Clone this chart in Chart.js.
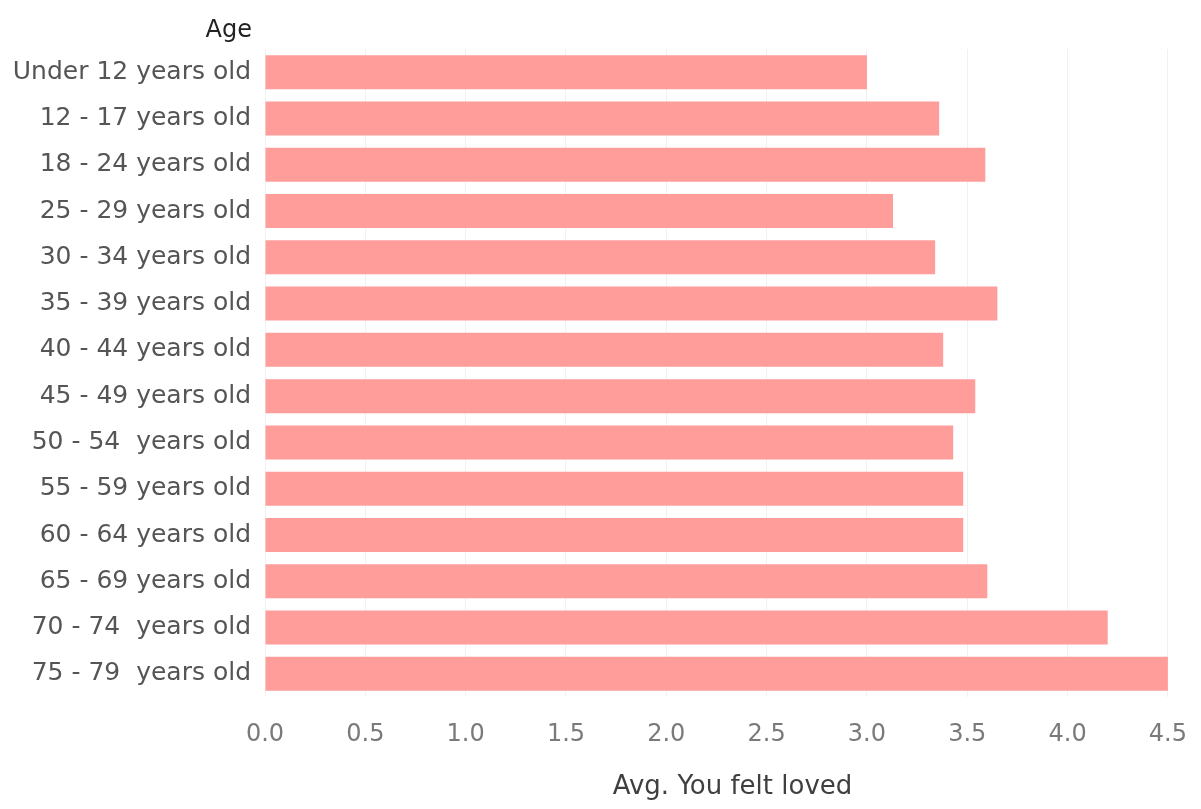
<!DOCTYPE html>
<html>
<head>
<meta charset="utf-8">
<script src="https://cdn.jsdelivr.net/npm/chart.js@4.4.1/dist/chart.umd.min.js"></script>
<style>
  html, body { margin: 0; padding: 0; background: #ffffff; }
  #wrap { position: relative; width: 1201px; height: 809px; }
</style>
</head>
<body>
<div id="wrap"><canvas id="chart" width="1201" height="809"></canvas></div>
<script>
// Age groups, top to bottom
const ageGroups = [
  'Under 12 years old',
  '12 - 17 years old',
  '18 - 24 years old',
  '25 - 29 years old',
  '30 - 34 years old',
  '35 - 39 years old',
  '40 - 44 years old',
  '45 - 49 years old',
  '50 - 54  years old',
  '55 - 59 years old',
  '60 - 64 years old',
  '65 - 69 years old',
  '70 - 74  years old',
  '75 - 79  years old'
];

// Average "You felt loved" score per age group
const avgFeltLoved = [3.00, 3.36, 3.59, 3.13, 3.34, 3.65, 3.38, 3.54, 3.43, 3.48, 3.48, 3.60, 4.20, 4.50];

// Value axis tick values
const xTicks = [0, 0.5, 1.0, 1.5, 2.0, 2.5, 3.0, 3.5, 4.0, 4.5];

const FONT = '"DejaVu Sans", Verdana, sans-serif';

// Draws the "Age" header above the row labels, right-aligned with them
const rowHeader = {
  id: 'rowHeader',
  afterDraw(chart) {
    const y = chart.scales.y;
    const ctx = chart.ctx;
    ctx.save();
    ctx.font = '24px ' + FONT;
    ctx.fillStyle = '#222222';
    ctx.textAlign = 'right';
    ctx.textBaseline = 'middle';
    ctx.fillText('Age', y.right - 13, chart.chartArea.top - 18);
    ctx.restore();
  }
};

new Chart(document.getElementById('chart'), {
  type: 'bar',
  data: {
    labels: ageGroups,
    datasets: [{
      data: avgFeltLoved,
      backgroundColor: '#ff9d9a',
      borderWidth: 0,
      barPercentage: 0.735,
      categoryPercentage: 1.0
    }]
  },
  options: {
    indexAxis: 'y',
    responsive: false,
    animation: false,
    layout: { padding: { top: 49, right: 1, left: 0, bottom: 0 } },
    plugins: {
      legend: { display: false },
      tooltip: { enabled: false }
    },
    scales: {
      x: {
        type: 'linear',
        min: 0,
        max: 4.66,
        afterBuildTicks(scale) {
          scale.ticks = xTicks.map(v => ({ value: v }));
        },
        afterFit(scale) {
          scale.height = 112;
          scale.paddingLeft = 0;
          scale.paddingRight = 0;
        },
        grid: { color: '#f1f1f1', lineWidth: 1, drawTicks: false },
        border: { display: false },
        ticks: {
          padding: 23,
          color: '#7a7a7a',
          font: { family: FONT, size: 24 },
          callback: v => Number(v).toFixed(1)
        },
        title: {
          display: true,
          text: 'Avg. You felt loved',
          color: '#3f3f3f',
          font: { family: FONT, size: 26 },
          padding: { top: 0, bottom: 6 }
        }
      },
      y: {
        afterFit(scale) { scale.width = 265; },
        grid: { display: false, drawTicks: false },
        border: { display: false },
        ticks: {
          padding: 14,
          color: '#555555',
          font: { family: FONT, size: 25 }
        }
      }
    }
  },
  plugins: [rowHeader]
});
</script>
</body>
</html>
